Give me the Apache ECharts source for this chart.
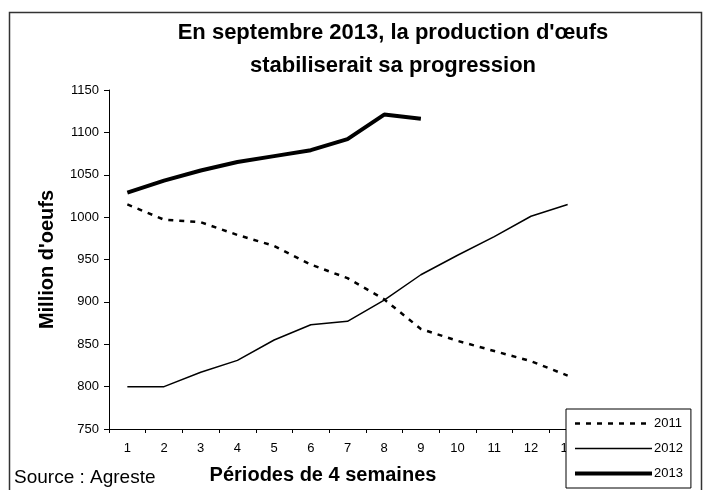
<!DOCTYPE html>
<html>
<head>
<meta charset="utf-8">
<script src="https://cdn.jsdelivr.net/npm/echarts@6/dist/echarts.min.js"></script>
<style>
  html, body { margin: 0; padding: 0; background: #fff; }
  #main { width: 703px; height: 490px; }
</style>
</head>
<body>
<div id="main"></div>
<script>
// periods of 4 weeks
const periods = ["1", "2", "3", "4", "5", "6", "7", "8", "9", "10", "11", "12", "13"];

// millions of eggs
const prod2011 = [1015, 997, 994, 979, 966, 944, 928, 903, 868, 854, 842, 830, 813];
const prod2012 = [800, 800, 817, 831, 855, 873, 877, 902, 932, 955, 977, 1001, 1015];
const prod2013 = [1029, 1043, 1055, 1065, 1072, 1079, 1092, 1121, 1116];

const yTicks = { min: 750, max: 1150, step: 50 };

const font = "Liberation Sans, Arial, sans-serif";

var chartDom = document.getElementById("main");
var myChart = echarts.init(chartDom);
var option;

option = {
  animation: false,
  backgroundColor: "#fff",
  textStyle: { fontFamily: font, color: "#000" },
  graphic: [
    {
      // outer frame of the chart
      type: "rect",
      z: -1,
      shape: { x: 9.5, y: 12.5, width: 692, height: 500 },
      style: { fill: null, stroke: "#333", lineWidth: 1.5 },
    },
    {
      type: "text",
      style: {
        x: 393, y: 33,
        text: "En septembre 2013, la production d'œufs",
        font: "bold 22px " + font,
        fill: "#000",
        align: "center",
        verticalAlign: "middle",
      },
    },
    {
      type: "text",
      style: {
        x: 393, y: 66,
        text: "stabiliserait sa progression",
        font: "bold 22px " + font,
        fill: "#000",
        align: "center",
        verticalAlign: "middle",
      },
    },
    {
      type: "text",
      style: {
        x: 14, y: 478,
        text: "Source : Agreste",
        font: "19px " + font,
        fill: "#000",
        align: "left",
        verticalAlign: "middle",
      },
    },
  ],
  grid: {
    left: 109,
    right: 117,
    top: 90,
    bottom: 59,
  },
  legend: {
    orient: "vertical",
    left: 566,
    top: 409,
    padding: [8, 8, 8, 7],
    itemWidth: 77,
    itemHeight: 14,
    itemGap: 12,
    backgroundColor: "#fff",
    borderColor: "#000",
    borderWidth: 1,
    itemStyle: { opacity: 0 },
    lineStyle: { width: "inherit" },
    textStyle: { fontSize: 13, color: "#000", fontFamily: font, padding: [0, 0, 0, -3] },
    data: ["2011", "2012", "2013"],
  },
  xAxis: {
    type: "category",
    data: periods,
    boundaryGap: true,
    name: "Périodes de 4 semaines",
    nameLocation: "middle",
    nameGap: 36,
    nameTextStyle: {
      fontSize: 20,
      fontWeight: "bold",
      color: "#000",
      padding: [0, 49, 0, 0],
    },
    axisLine: { lineStyle: { color: "#000", width: 1 } },
    axisTick: { show: true, inside: false, length: 4, alignWithLabel: false, lineStyle: { color: "#000" } },
    axisLabel: { fontSize: 13, color: "#000", margin: 13, interval: 0 },
    splitLine: { show: false },
  },
  yAxis: {
    type: "value",
    min: yTicks.min,
    max: yTicks.max,
    interval: yTicks.step,
    name: "Million d'oeufs",
    nameLocation: "middle",
    nameGap: 52,
    nameTextStyle: { fontSize: 20, fontWeight: "bold", color: "#000" },
    axisLine: { show: true, lineStyle: { color: "#000", width: 1 } },
    axisTick: { show: true, length: 5, lineStyle: { color: "#000" } },
    axisLabel: {
      fontSize: 13,
      color: "#000",
      margin: 10,
      formatter: function (v) { return String(v); },
    },
    splitLine: { show: false },
  },
  series: [
    {
      name: "2011",
      type: "line",
      data: prod2011,
      symbol: "none",
      color: "#000",
      lineStyle: { color: "#000", width: 2.5, type: [5, 6] },
    },
    {
      name: "2012",
      type: "line",
      data: prod2012,
      symbol: "none",
      color: "#000",
      lineStyle: { color: "#000", width: 1.5 },
    },
    {
      name: "2013",
      type: "line",
      data: prod2013,
      symbol: "none",
      color: "#000",
      lineStyle: { color: "#000", width: 4 },
    },
  ],
};

option && myChart.setOption(option);
</script>
</body>
</html>
